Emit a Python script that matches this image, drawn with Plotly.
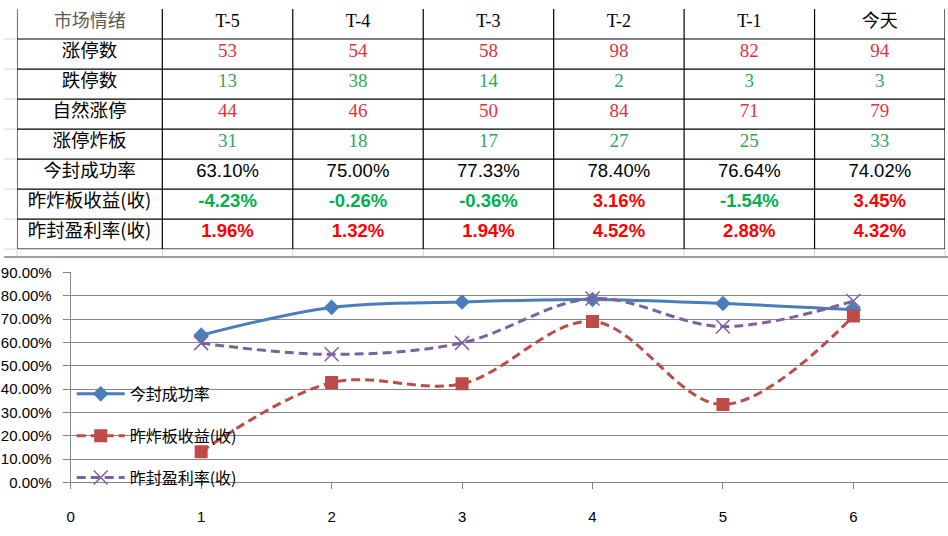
import plotly.graph_objects as go

# ---------------- data ----------------
header_vals = ["市场情绪", "T-5", "T-4", "T-3", "T-2", "T-1", "今天"]
row_labels = ["涨停数", "跌停数", "自然涨停", "涨停炸板", "今封成功率", "昨炸板收益(收)", "昨封盈利率(收)"]
limit_up = [53, 54, 58, 98, 82, 94]
limit_down = [13, 38, 14, 2, 3, 3]
natural_up = [44, 46, 50, 84, 71, 79]
broken = [31, 18, 17, 27, 25, 33]
seal_rate = [63.10, 75.00, 77.33, 78.40, 76.64, 74.02]
broken_ret = [-4.23, -0.26, -0.36, 3.16, -1.54, 3.45]
seal_profit = [1.96, 1.32, 1.94, 4.52, 2.88, 4.32]

x_days = [1, 2, 3, 4, 5, 6]
s_success = [0.6310, 0.7500, 0.7733, 0.7840, 0.7664, 0.7402]
s_broken = [0.132, 0.428, 0.423, 0.690, 0.334, 0.713]
s_profit = [0.597, 0.549, 0.598, 0.788, 0.668, 0.777]
series_names = ["今封成功率", "昨炸板收益(收)", "昨封盈利率(收)"]

W, H = 948, 536
CJK = "Noto Sans CJK SC"
SERIF = "Liberation Serif"
SANS = "Liberation Sans"
RED_T, GREEN_T = "#E8303A", "#2EA660"
RED_B, GREEN_B = "#FF0000", "#00B050"
col_w = [146, 131, 131, 131, 131, 131, 131]
n_rows = 8

# ---------------- table cells (text trace on its own axes) ----------------
col_edges = [0]
for w in col_w:
    col_edges.append(col_edges[-1] + w)
col_centers = [(col_edges[i] + col_edges[i + 1]) / 2 for i in range(len(col_w))]

cx, cy, ct, cc, cf, cs = [], [], [], [], [], []


def cell(col, row, text, color, family, size):
    cx.append(col_centers[col])
    cy.append(row + 0.44)
    ct.append(text)
    cc.append(color)
    cf.append(family)
    cs.append(size)


# header row
for c, h in enumerate(header_vals):
    is_cjk = c in (0, 6)
    cell(c, 0, h, "#595959" if c == 0 else "#000000", CJK if is_cjk else SERIF, 18)
# row labels
for r, lab in enumerate(row_labels):
    cell(0, r + 1, lab, "#000000", CJK, 18.5)
# values
for j in range(6):
    c = j + 1
    cell(c, 1, str(limit_up[j]), RED_T, SERIF, 19)
    cell(c, 2, str(limit_down[j]), GREEN_T, SERIF, 19)
    cell(c, 3, str(natural_up[j]), RED_T, SERIF, 19)
    cell(c, 4, str(broken[j]), GREEN_T, SERIF, 19)
    cell(c, 5, f"{seal_rate[j]:.2f}%", "#000000", SANS, 18.5)
    cell(c, 6, f"<b>{broken_ret[j]:.2f}%</b>", GREEN_B if broken_ret[j] < 0 else RED_B, SANS, 18.5)
    cell(c, 7, f"<b>{seal_profit[j]:.2f}%</b>", GREEN_B if seal_profit[j] < 0 else RED_B, SANS, 18.5)

fig = go.Figure()
fig.add_trace(go.Scatter(
    x=cx, y=cy, text=ct, mode="text", xaxis="x2", yaxis="y2",
    textposition="middle center",
    textfont=dict(color=cc, family=cf, size=cs),
    hoverinfo="skip", showlegend=False,
))

# ---------------- chart ----------------
fig.add_trace(go.Scatter(
    x=x_days, y=s_success, name=series_names[0], mode="lines+markers",
    line=dict(color="#4A7EBB", width=3, shape="spline"),
    marker=dict(symbol="diamond", size=12, color="#4A7EBB"),
    legendgroup="a",
))
fig.add_trace(go.Scatter(
    x=x_days, y=s_broken, name=series_names[1], mode="lines+markers",
    line=dict(color="#BE4B48", width=3, shape="spline", dash="9px,5px"),
    marker=dict(symbol="square", size=13, color="#BE4B48"),
    legendgroup="b",
))
fig.add_trace(go.Scatter(
    x=x_days, y=s_profit, name=series_names[2], mode="lines+markers",
    line=dict(color="#7D60A0", width=3, shape="spline", dash="9px,5px"),
    marker=dict(symbol="x-thin", size=14, line=dict(color="#7D60A0", width=1.5), color="#7D60A0"),
    legendgroup="c",
))

grid_c = "#868686"
fig.update_layout(
    width=W, height=H,
    margin=dict(l=0, r=0, t=0, b=0),
    paper_bgcolor="white", plot_bgcolor="white",
    xaxis=dict(
        domain=[67 / W, 1.0], range=[0, 881 / 131], tickmode="linear", tick0=0, dtick=1,
        showgrid=False, zeroline=False, showline=True, linecolor=grid_c, linewidth=1,
        ticks="outside", ticklen=6, tickcolor=grid_c,
        tickfont=dict(family=SANS, size=15, color="#000000"), ticklabelstandoff=15,
    ),
    yaxis=dict(
        domain=[(H - 489) / H, (H - 272) / H], range=[0, 0.9], dtick=0.1, tickformat=".2%",
        showgrid=True, gridcolor=grid_c, gridwidth=1, zeroline=False,
        showline=True, linecolor=grid_c, linewidth=1,
        ticks="outside", ticklen=7, tickcolor=grid_c,
        tickfont=dict(family=SANS, size=15, color="#000000"), ticklabelstandoff=8,
    ),
    xaxis2=dict(domain=[13 / W, 945 / W], range=[0, col_edges[-1]], visible=False,
                fixedrange=True),
    yaxis2=dict(domain=[(H - 248) / H, 1.0], range=[n_rows, 0], visible=False,
                fixedrange=True, anchor="x2"),
    showlegend=True,
    legend=dict(
        x=68 / W, y=(H - 380) / H, xanchor="left", yanchor="top",
        bgcolor="rgba(0,0,0,0)", font=dict(family=CJK, size=16, color="#000000"),
        tracegroupgap=18, itemwidth=48,
    ),
)

# table borders on the table axes
shapes = []
for r in range(1, n_rows + 1):
    shapes.append(dict(type="line", xref="x2", yref="y2", x0=0, x1=col_edges[-1], y0=r, y1=r,
                       line=dict(color="black", width=1.2)))
for e in col_edges:
    shapes.append(dict(type="line", xref="x2", yref="y2", x0=e, x1=e, y0=0, y1=n_rows,
                       line=dict(color="black", width=1.2)))
# spreadsheet gridlines / chart border
for r in range(1, n_rows + 1):
    yb = r * 31
    shapes.append(dict(type="line", xref="paper", yref="paper", x0=0, x1=12 / W,
                       y0=(H - yb) / H, y1=(H - yb) / H, line=dict(color="#D4D4D4", width=1)))
for e in col_edges:
    xp = (13 + e) / W
    shapes.append(dict(type="line", xref="paper", yref="paper", x0=xp, x1=xp,
                       y0=(H - 256) / H, y1=(H - 249) / H, line=dict(color="#D4D4D4", width=1)))
shapes.append(dict(type="line", xref="paper", yref="paper", x0=0, x1=1,
                   y0=(H - 256) / H, y1=(H - 256) / H, line=dict(color="#A0A0A0", width=2)))
fig.update_layout(shapes=shapes)

fig.write_html("out.html")
